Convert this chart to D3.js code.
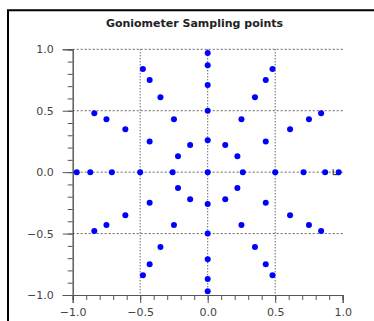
<!DOCTYPE html>
<html>
<head>
<meta charset="utf-8">
<script src="https://cdn.jsdelivr.net/npm/d3@7"></script>
<style>
  body { margin: 0; background: #fff; }
  svg { display: block; }
</style>
</head>
<body>
<div id="chart"></div>
<script>
// sampling points (x, y pairs)
const pointX = [
  0,
  0.97, 0.87, 0.71, 0.5, 0.26,
  0.84, 0.75, 0.61, 0.43, 0.22,
  0.48, 0.43, 0.35, 0.25, 0.13,
  0, 0, 0, 0, 0,
  -0.48, -0.43, -0.35, -0.25, -0.13,
  -0.84, -0.75, -0.61, -0.43, -0.22,
  -0.97, -0.87, -0.71, -0.5, -0.26,
  -0.84, -0.75, -0.61, -0.43, -0.22,
  -0.48, -0.43, -0.35, -0.25, -0.13,
  0, 0, 0, 0, 0,
  0.48, 0.43, 0.35, 0.25, 0.13,
  0.84, 0.75, 0.61, 0.43, 0.22
];
const pointY = [
  0,
  0, 0, 0, 0, 0,
  0.48, 0.43, 0.35, 0.25, 0.13,
  0.84, 0.75, 0.61, 0.43, 0.22,
  0.97, 0.87, 0.71, 0.5, 0.26,
  0.84, 0.75, 0.61, 0.43, 0.22,
  0.48, 0.43, 0.35, 0.25, 0.13,
  0, 0, 0, 0, 0,
  -0.48, -0.43, -0.35, -0.25, -0.13,
  -0.84, -0.75, -0.61, -0.43, -0.22,
  -0.97, -0.87, -0.71, -0.5, -0.26,
  -0.84, -0.75, -0.61, -0.43, -0.22,
  -0.48, -0.43, -0.35, -0.25, -0.13
];
const majorTicks = [-1.0, -0.5, 0.0, 0.5, 1.0];
const minorTicks = d3.range(-10, 11).map(d => d / 10);
const xGrid = [-0.5, 0, 0.5];
const yGrid = [-0.5, 0, 0.5, 1.0];
const title = "Goniometer Sampling points";

const width = 374, height = 321;
const svg = d3.select("#chart").append("svg")
  .attr("width", width)
  .attr("height", height);

// outer frame (top and left edges only)
svg.append("path")
  .attr("d", "M8,321 V10.3 H374")
  .attr("fill", "none")
  .attr("stroke", "#000")
  .attr("stroke-width", 2);

const x = d3.scaleLinear().domain([-1, 1]).range([72.7, 342.7]);
const y = d3.scaleLinear().domain([-1, 1]).range([295, 49.3]);

svg.append("text")
  .attr("x", 194.5)
  .attr("y", 26.5)
  .attr("text-anchor", "middle")
  .style("font-family", "DejaVu Sans")
  .style("font-weight", "bold")
  .style("font-size", "11px")
  .attr("fill", "#222")
  .text(title);

// grid lines
svg.selectAll(".hgrid")
  .data(yGrid)
  .enter()
  .append("line")
  .attr("x1", x(-1)).attr("x2", x(1))
  .attr("y1", d => y(d)).attr("y2", d => y(d))
  .attr("stroke", "#666")
  .attr("stroke-width", 1)
  .attr("stroke-dasharray", "2,2");

svg.selectAll(".vgrid")
  .data(xGrid)
  .enter()
  .append("line")
  .attr("x1", d => x(d)).attr("x2", d => x(d))
  .attr("y1", y(1)).attr("y2", y(-1))
  .attr("stroke", "#222")
  .attr("stroke-width", 1)
  .attr("stroke-dasharray", "1,2");

// axes
const fmt = d => d3.format(".1f")(d).replace("-", "\u2212");

const xAxis = svg.append("g")
  .attr("transform", "translate(0," + y(-1) + ")");
xAxis.call(d3.axisBottom(x).tickValues(minorTicks).tickSize(5).tickFormat(""));
xAxis.append("g").call(d3.axisBottom(x).tickValues(majorTicks).tickSize(8).tickFormat(fmt));

const yAxis = svg.append("g")
  .attr("transform", "translate(" + x(-1) + ",0)");
yAxis.call(d3.axisLeft(y).tickValues(minorTicks).tickSize(5).tickFormat(""));
yAxis.append("g").call(d3.axisLeft(y).tickValues(majorTicks).tickSize(10).tickFormat(fmt));

svg.selectAll(".domain").attr("stroke", "#555").attr("stroke-width", 1);
svg.selectAll(".tick line").attr("stroke", "#555");
svg.selectAll(".tick text")
  .style("font-family", "DejaVu Sans")
  .style("font-size", "11px")
  .attr("fill", "#444");
xAxis.selectAll(".tick text").attr("dy", "0.9em");
yAxis.selectAll(".tick text").attr("x", -19);

// small corner mark near (1, 0)
svg.append("path")
  .attr("d", "M" + (x(1) - 9.5) + "," + (y(0) - 3) + " v5.5 h6")
  .attr("fill", "none")
  .attr("stroke", "#222")
  .attr("stroke-width", 1);

// sampling points
svg.selectAll(".pt")
  .data(pointX.map((d, i) => ({ x: d, y: pointY[i] })))
  .enter()
  .append("circle")
  .attr("cx", d => x(d.x))
  .attr("cy", d => y(d.y))
  .attr("r", 3)
  .attr("fill", "#0000ff");
</script>
</body>
</html>
